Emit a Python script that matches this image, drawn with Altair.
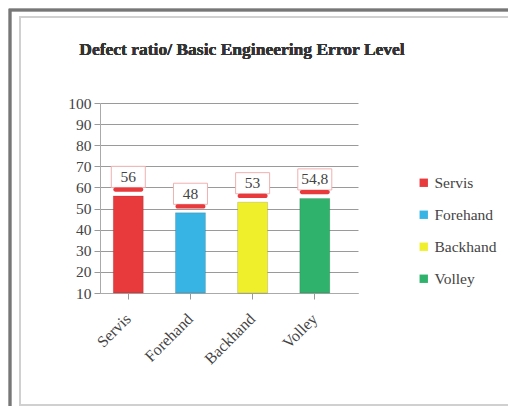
import altair as alt
import pandas as pd

categories = ["Servis", "Forehand", "Backhand", "Volley"]
values = [56, 48, 53, 54.8]
value_labels = ["56", "48", "53", "54,8"]
colors = ["#e8393d", "#38b4e4", "#f0ef2c", "#2fb36c"]
y_ticks = [10, 20, 30, 40, 50, 60, 70, 80, 90, 100]
title_text = "Defect ratio/ Basic Engineering Error Level"

df = pd.DataFrame({"cat": categories, "v": values, "lab": value_labels})
df["base"] = 10

FONT = "Liberation Serif"
W, H = 258, 190

xscale = alt.Scale(domain=categories, paddingInner=0.45, paddingOuter=0.3, align=0.3)
yscale = alt.Scale(domain=[10, 100], nice=False, zero=False)

xaxis = alt.Axis(title=None, labelAngle=-45, labelAlign="right",
                 labelBaseline="middle", labelFontSize=16, labelFont=FONT,
                 labelColor="#444", labelPadding=17, tickSize=6,
                 tickColor="#999", domainColor="#aaa", grid=False)
yaxis = alt.Axis(title=None, values=y_ticks, labelFontSize=15.5, labelFont=FONT,
                 labelColor="#444", tickSize=6, tickColor="#999",
                 domainColor="#aaa", gridColor="#9a9a9a", gridWidth=1,
                 labelPadding=3, labelOverlap=False, labelFlush=False)

xenc = alt.X("cat:N", sort=categories, scale=xscale, axis=xaxis)


def yenc(field):
    return alt.Y(field, scale=yscale, axis=yaxis)


base = alt.Chart(df)

frame_outer = base.mark_rect(fill=None, stroke="#777", strokeWidth=2.5).encode(
    x=alt.value(-90), x2=alt.value(W + 180), y=alt.value(-93), y2=alt.value(H + 140))
frame_inner = base.mark_rect(fill=None, stroke="#d0d0d0", strokeWidth=2).encode(
    x=alt.value(-80), x2=alt.value(W + 180), y=alt.value(-86), y2=alt.value(H + 112))

title = base.mark_text(font=FONT, fontSize=17.5, fontWeight="bold", color="#333",
                       align="center", baseline="middle").encode(
    x=alt.value(142), y=alt.value(-53), text=alt.value(title_text))

bars = base.mark_bar(width=30, stroke="#00000022", strokeWidth=1).encode(
    x=xenc,
    y=yenc("v:Q"),
    y2="base:Q",
    color=alt.Color("cat:N", sort=categories,
                    scale=alt.Scale(domain=categories, range=colors),
                    legend=alt.Legend(title=None, orient="none", legendX=316, legendY=72,
                                      symbolType="square", symbolSize=70,
                                      symbolStrokeWidth=0, labelFont=FONT,
                                      labelFontSize=15.5, labelColor="#444",
                                      rowPadding=15, labelOffset=3)),
)

boxes = base.transform_calculate(lo="datum.v + 4", hi="datum.v + 14").mark_bar(
    width=34, fill="white", stroke="#f0b0b0", strokeWidth=1).encode(
    x=xenc, y=yenc("lo:Q"), y2="hi:Q")

caps = base.transform_calculate(lo="datum.v + 2", hi="datum.v + 4").mark_bar(
    width=30, color="#e8393d", cornerRadius=3).encode(
    x=xenc, y=yenc("lo:Q"), y2="hi:Q")

texts = base.transform_calculate(mid="datum.v + 9").mark_text(
    font=FONT, fontSize=15.5, color="#444", baseline="middle").encode(
    x=xenc, y=yenc("mid:Q"), text="lab:N")

chart = alt.layer(frame_outer, frame_inner, title, bars, boxes, caps, texts).properties(
    width=W, height=H,
    autosize=alt.AutoSizeParams(type="none"),
    padding={"left": 92, "top": 95, "right": 150, "bottom": 113},
).configure(background="white").configure_view(stroke="transparent")

chart.save("out.html", embed_options={"renderer": "svg", "actions": False})
